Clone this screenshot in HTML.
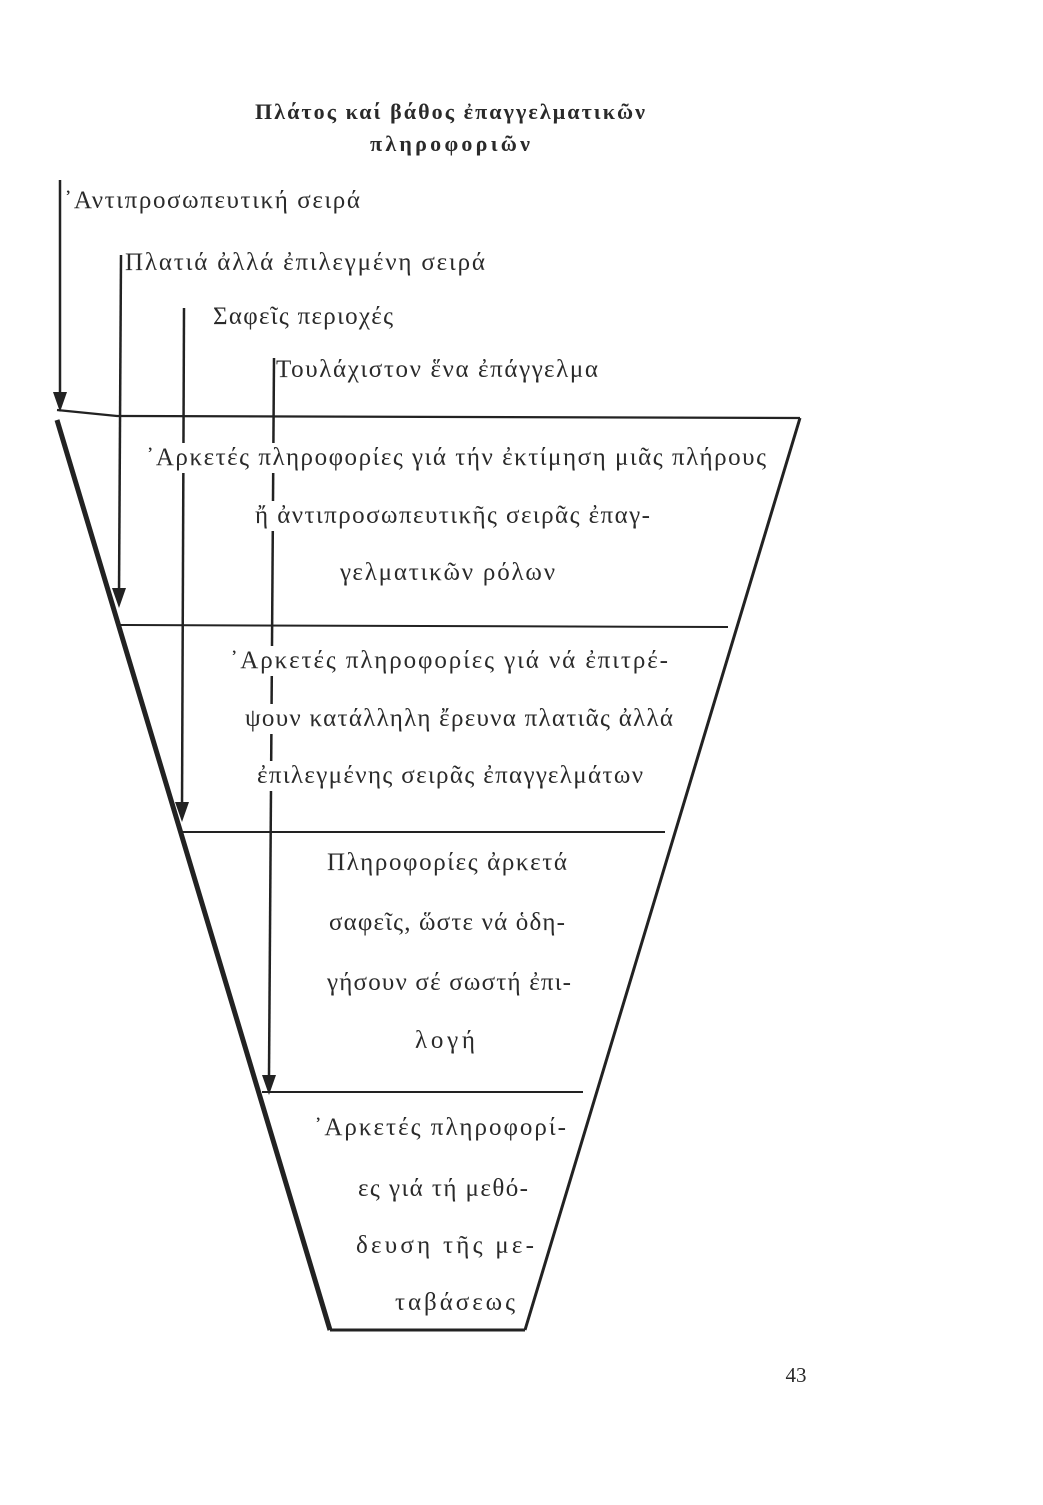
<!DOCTYPE html>
<html><head><meta charset="utf-8"><style>
html,body{margin:0;padding:0;background:#fff;}
svg text{font-family:"Liberation Serif","DejaVu Serif",serif;fill:#2a2a2a;}
.t{font-size:25px;}
</style></head><body>
<svg width="1043" height="1500" viewBox="0 0 1043 1500" xmlns="http://www.w3.org/2000/svg">
<rect width="1043" height="1500" fill="#fff"/>
<g stroke="#222" fill="none">
<line x1="60" y1="180" x2="60" y2="400" stroke-width="2.5"/>
<line x1="121" y1="255" x2="119" y2="595" stroke-width="2.5"/>
<line x1="184" y1="308" x2="182" y2="810" stroke-width="2.5"/>
<line x1="274" y1="358" x2="269" y2="1075" stroke-width="2.5"/>
<polyline points="57,410 117,416 800,418" stroke-width="2.2"/>
<line x1="57" y1="420" x2="330" y2="1330" stroke-width="5"/>
<line x1="800" y1="418" x2="525" y2="1330" stroke-width="3"/>
<line x1="330" y1="1330" x2="525" y2="1330" stroke-width="3"/>
<line x1="118" y1="625" x2="728" y2="627" stroke-width="2"/>
<line x1="180" y1="832" x2="665" y2="832" stroke-width="2"/>
<line x1="262" y1="1092" x2="583" y2="1092" stroke-width="2"/>
</g>
<g fill="#fff">
<rect x="178" y="443" width="10" height="30"/>
<rect x="267" y="443" width="10" height="30"/>
<rect x="267" y="501" width="10" height="30"/>
<rect x="266" y="646" width="10" height="30"/>
<rect x="266" y="704" width="10" height="30"/>
<rect x="266" y="761" width="10" height="30"/>
</g>
<g fill="#222">
<polygon points="53,392 67,392 60,412"/>
<polygon points="112,588 126,588 119,608"/>
<polygon points="175,802 189,802 182,822"/>
<polygon points="262,1075 276,1075 269,1095"/>
</g>
<text x="450" y="119" font-size="22" font-weight="bold" text-anchor="middle" textLength="390">Πλάτος καί βάθος ἐπαγγελματικῶν</text>
<text x="450" y="151" font-size="22" font-weight="bold" text-anchor="middle" textLength="160">πληροφοριῶν</text>
<text class="t" x="64" y="208" textLength="296">᾿Αντιπροσωπευτική σειρά</text>
<text class="t" x="125" y="270" textLength="360">Πλατιά ἀλλά ἐπιλεγμένη σειρά</text>
<text class="t" x="213" y="324" textLength="180">Σαφεῖς περιοχές</text>
<text class="t" x="276" y="377" textLength="322">Τουλάχιστον ἕνα ἐπάγγελμα</text>

<text class="t" x="146" y="465" textLength="620">᾿Αρκετές πληροφορίες γιά τήν ἐκτίμηση μιᾶς πλήρους</text>
<text class="t" x="255" y="523" textLength="395">ἤ ἀντιπροσωπευτικῆς σειρᾶς ἐπαγ-</text>
<text class="t" x="340" y="580" textLength="215">γελματικῶν ρόλων</text>

<text class="t" x="230" y="668" textLength="438">᾿Αρκετές πληροφορίες γιά νά ἐπιτρέ-</text>
<text class="t" x="245" y="726" textLength="428">ψουν κατάλληλη ἔρευνα πλατιᾶς ἀλλά</text>
<text class="t" x="257" y="783" textLength="386">ἐπιλεγμένης σειρᾶς ἐπαγγελμάτων</text>

<text class="t" x="447" y="870" text-anchor="middle" textLength="240">Πληροφορίες ἀρκετά</text>
<text class="t" x="447" y="930" text-anchor="middle" textLength="236">σαφεῖς, ὥστε νά ὁδη-</text>
<text class="t" x="449" y="990" text-anchor="middle" textLength="244">γήσουν σέ σωστή ἐπι-</text>
<text class="t" x="445" y="1048" text-anchor="middle" textLength="60">λογή</text>

<text class="t" x="314" y="1135" textLength="252">᾿Αρκετές πληροφορί-</text>
<text class="t" x="443" y="1196" text-anchor="middle" textLength="170">ες γιά τή μεθό-</text>
<text class="t" x="445" y="1253" text-anchor="middle" textLength="178">δευση τῆς με-</text>
<text class="t" x="455" y="1310" text-anchor="middle" textLength="120">ταβάσεως</text>

<text x="796" y="1382" font-size="21" text-anchor="middle">43</text>
</svg>
</body></html>
